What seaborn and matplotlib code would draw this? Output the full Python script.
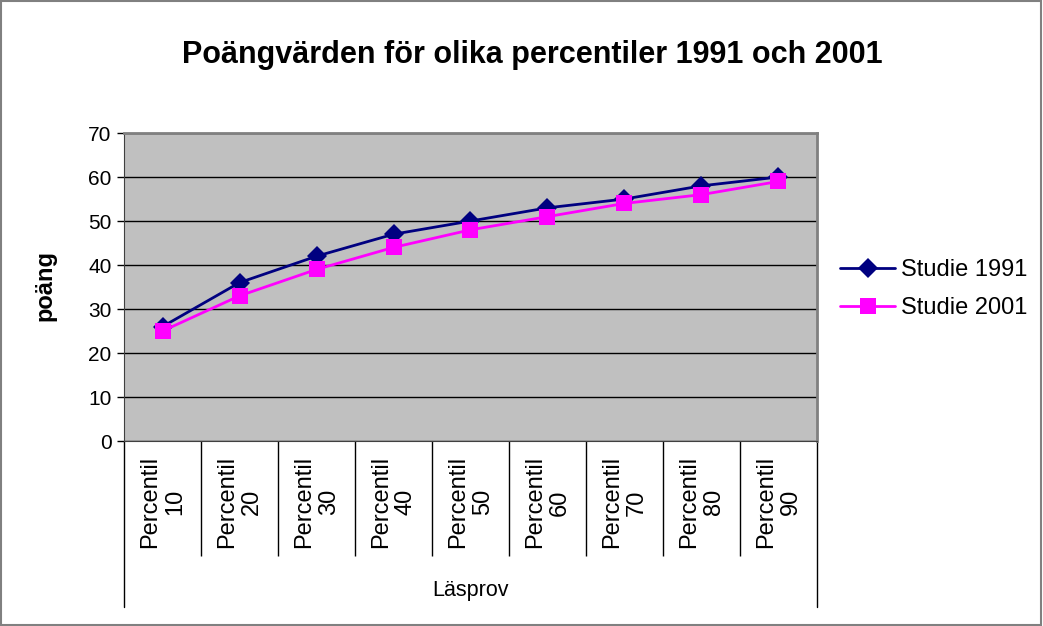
import pandas as pd
import matplotlib.pyplot as plt
import seaborn as sns
from matplotlib.patches import Rectangle

# data
kategorier = ["Percentil\n10", "Percentil\n20", "Percentil\n30", "Percentil\n40",
              "Percentil\n50", "Percentil\n60", "Percentil\n70", "Percentil\n80",
              "Percentil\n90"]
studie_1991 = [26, 36, 42, 47, 50, 53, 55, 58, 60]
studie_2001 = [25, 33, 39, 44, 48, 51, 54, 56, 59]
serier = ["Studie 1991", "Studie 2001"]
y_ticks = [0, 10, 20, 30, 40, 50, 60, 70]

sns.set_style("white")
plt.rcParams["font.family"] = ["Liberation Sans", "DejaVu Sans"]
plt.rcParams.update({"text.color": "black", "axes.labelcolor": "black",
                     "xtick.color": "black", "ytick.color": "black"})

df = pd.DataFrame({
    "pos": list(range(len(kategorier))) * 2,
    "poang": studie_1991 + studie_2001,
    "serie": [serier[0]] * len(kategorier) + [serier[1]] * len(kategorier),
})

fig = plt.figure(figsize=(10.43, 6.26), dpi=100)
ax = fig.add_axes([0.1189, 0.2955, 0.6644, 0.492])
ax.set_facecolor("#C0C0C0")

sns.lineplot(data=df, x="pos", y="poang", hue="serie", style="serie",
             palette={serier[0]: "#000080", serier[1]: "#FF00FF"},
             markers={serier[0]: "D", serier[1]: "s"}, dashes=False,
             linewidth=2, markersize=11.5, markeredgewidth=0, ax=ax, legend=False)
# diamond a bit smaller
for line in ax.lines[:1]:
    line.set_markersize(10)

ax.set_xlim(-0.5, len(kategorier) - 0.5)
ax.set_ylim(0, 70)
ax.set_yticks(y_ticks)
ax.tick_params(axis="y", labelsize=15, length=5, width=1, direction="out", left=True, pad=4)
ax.yaxis.grid(True, color="black", linewidth=1)
ax.set_axisbelow(True)

ax.set_xticks(range(len(kategorier)))
ax.set_xticklabels(kategorier, rotation=90, fontsize=17, va="top", ha="center",
                   multialignment="center", linespacing=1.15)
ax.tick_params(axis="x", which="major", length=0, pad=11)
ax.set_xticks([i + 0.5 for i in range(len(kategorier) - 1)], minor=True)
ax.tick_params(axis="x", which="minor", length=83, width=1, direction="out",
               color="black", bottom=True)
ax.set_xlabel("")
ax.set_ylabel("poäng", fontsize=17, fontweight="bold")
ax.yaxis.set_label_coords(-0.097, 0.506)

for side in ["top", "right"]:
    ax.spines[side].set_color("#808080")
    ax.spines[side].set_linewidth(2)
ax.spines["left"].set_color("#404040")
ax.spines["bottom"].set_color("#404040")

# group axis "Läsprov"
for xa in [0, 1]:
    ax.plot([xa, xa], [0, -0.539], transform=ax.transAxes, color="black",
            linewidth=1, clip_on=False)
ax.text(0.5, -0.484, "Läsprov", transform=ax.transAxes, ha="center", va="center",
        fontsize=15.5)

fig.text(0.51, 0.912, "Poängvärden för olika percentiler 1991 och 2001",
         ha="center", va="center", fontsize=22, fontweight="bold")

handles = [plt.Line2D([], [], color="#000080", marker="D", markersize=10, linewidth=2,
                      markeredgewidth=0),
           plt.Line2D([], [], color="#FF00FF", marker="s", markersize=11.5, linewidth=2,
                      markeredgewidth=0)]
fig.legend(handles, serier, loc="center left", bbox_to_anchor=(0.785, 0.538),
           frameon=False, fontsize=17, handlelength=2.35, handletextpad=0.25,
           labelspacing=0.68)

fig.patches.append(Rectangle((0.001, 0.001), 0.997, 0.997, transform=fig.transFigure,
                             fill=False, edgecolor="#808080", linewidth=1.5))

fig.savefig("out.png", dpi=100)
